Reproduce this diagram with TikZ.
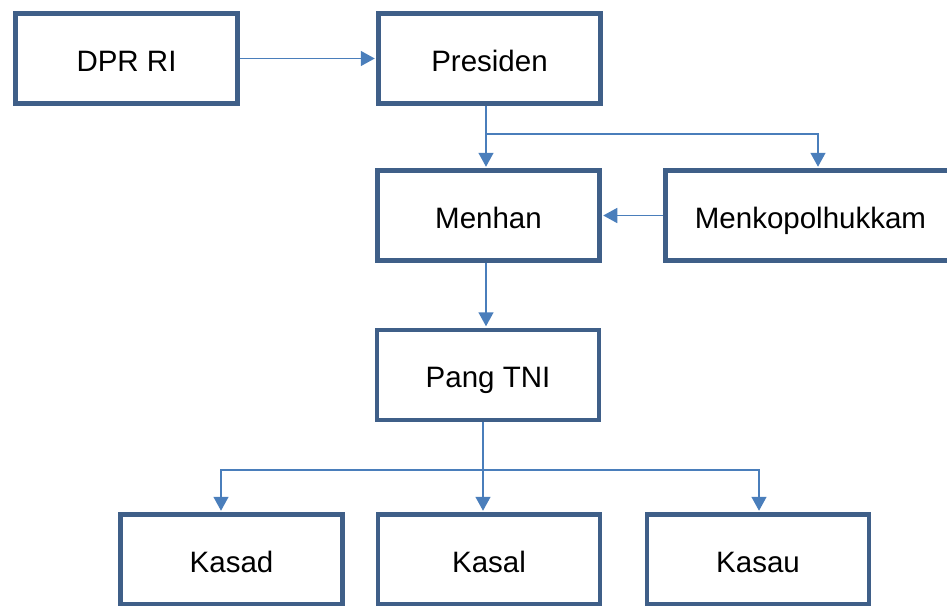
\documentclass[tikz,border=0pt]{standalone}
\usepackage{fontspec}
\setmainfont{Liberation Sans}
\usepackage{xcolor}
\usepackage{tikz}
\usetikzlibrary{arrows.meta, positioning}
\definecolor{boxblue}{HTML}{3F5F88}
\definecolor{linkblue}{HTML}{4A7EBB}

\begin{document}
\begin{tikzpicture}[x=1pt, y=-1pt,
  box/.style={draw=boxblue, line width=4.5pt, fill=white, align=center,
              minimum width=222pt, minimum height=90pt, inner sep=0pt,
              text height=29pt, text depth=4pt,
              font=\fontsize{29.5}{35}\selectfont},
  arr/.style={-{Triangle[length=14pt, width=15pt]}, line width=1.5pt, color=linkblue,
              shorten >=1.5pt},
]
\useasboundingbox (0,0) rectangle (947,605);
\clip (0,0) rectangle (947,605);
\node[box] (dpr) at (126.5,58.5) {DPR RI};
\node[box] (presiden) at (489.5,58.5) {Presiden};
\node[box] (menhan) at (488.5,215.5) {Menhan};
\node[box, minimum width=290pt] (menko) at (810.5,215.5) {Menkopolhukkam};
\node[box] (pang) at (488,375) {Pang TNI};
\node[box] (kasad) at (231.5,559.5) {Kasad};
\node[box] (kasal) at (489,559.5) {Kasal};
\node[box] (kasau) at (758,559.5) {Kasau};
\coordinate (fork) at (486,134);
\coordinate (split) at (483,470);
\draw[arr] (dpr) -- (presiden);
\draw[arr] (fork |- presiden.south) -- (fork |- menhan.north);
\draw[arr] (fork) -| ([xshift=7.5pt]menko.north);
\draw[arr] (menko) -- (menhan);
\draw[arr] (fork |- menhan.south) -- (fork |- pang.north);
\draw[arr] (split |- pang.south) -- (split |- kasal.north);
\draw[arr] (split) -| ([xshift=-10.5pt]kasad.north);
\draw[arr] (split) -| ([xshift=1pt]kasau.north);
\end{tikzpicture}
\end{document}
